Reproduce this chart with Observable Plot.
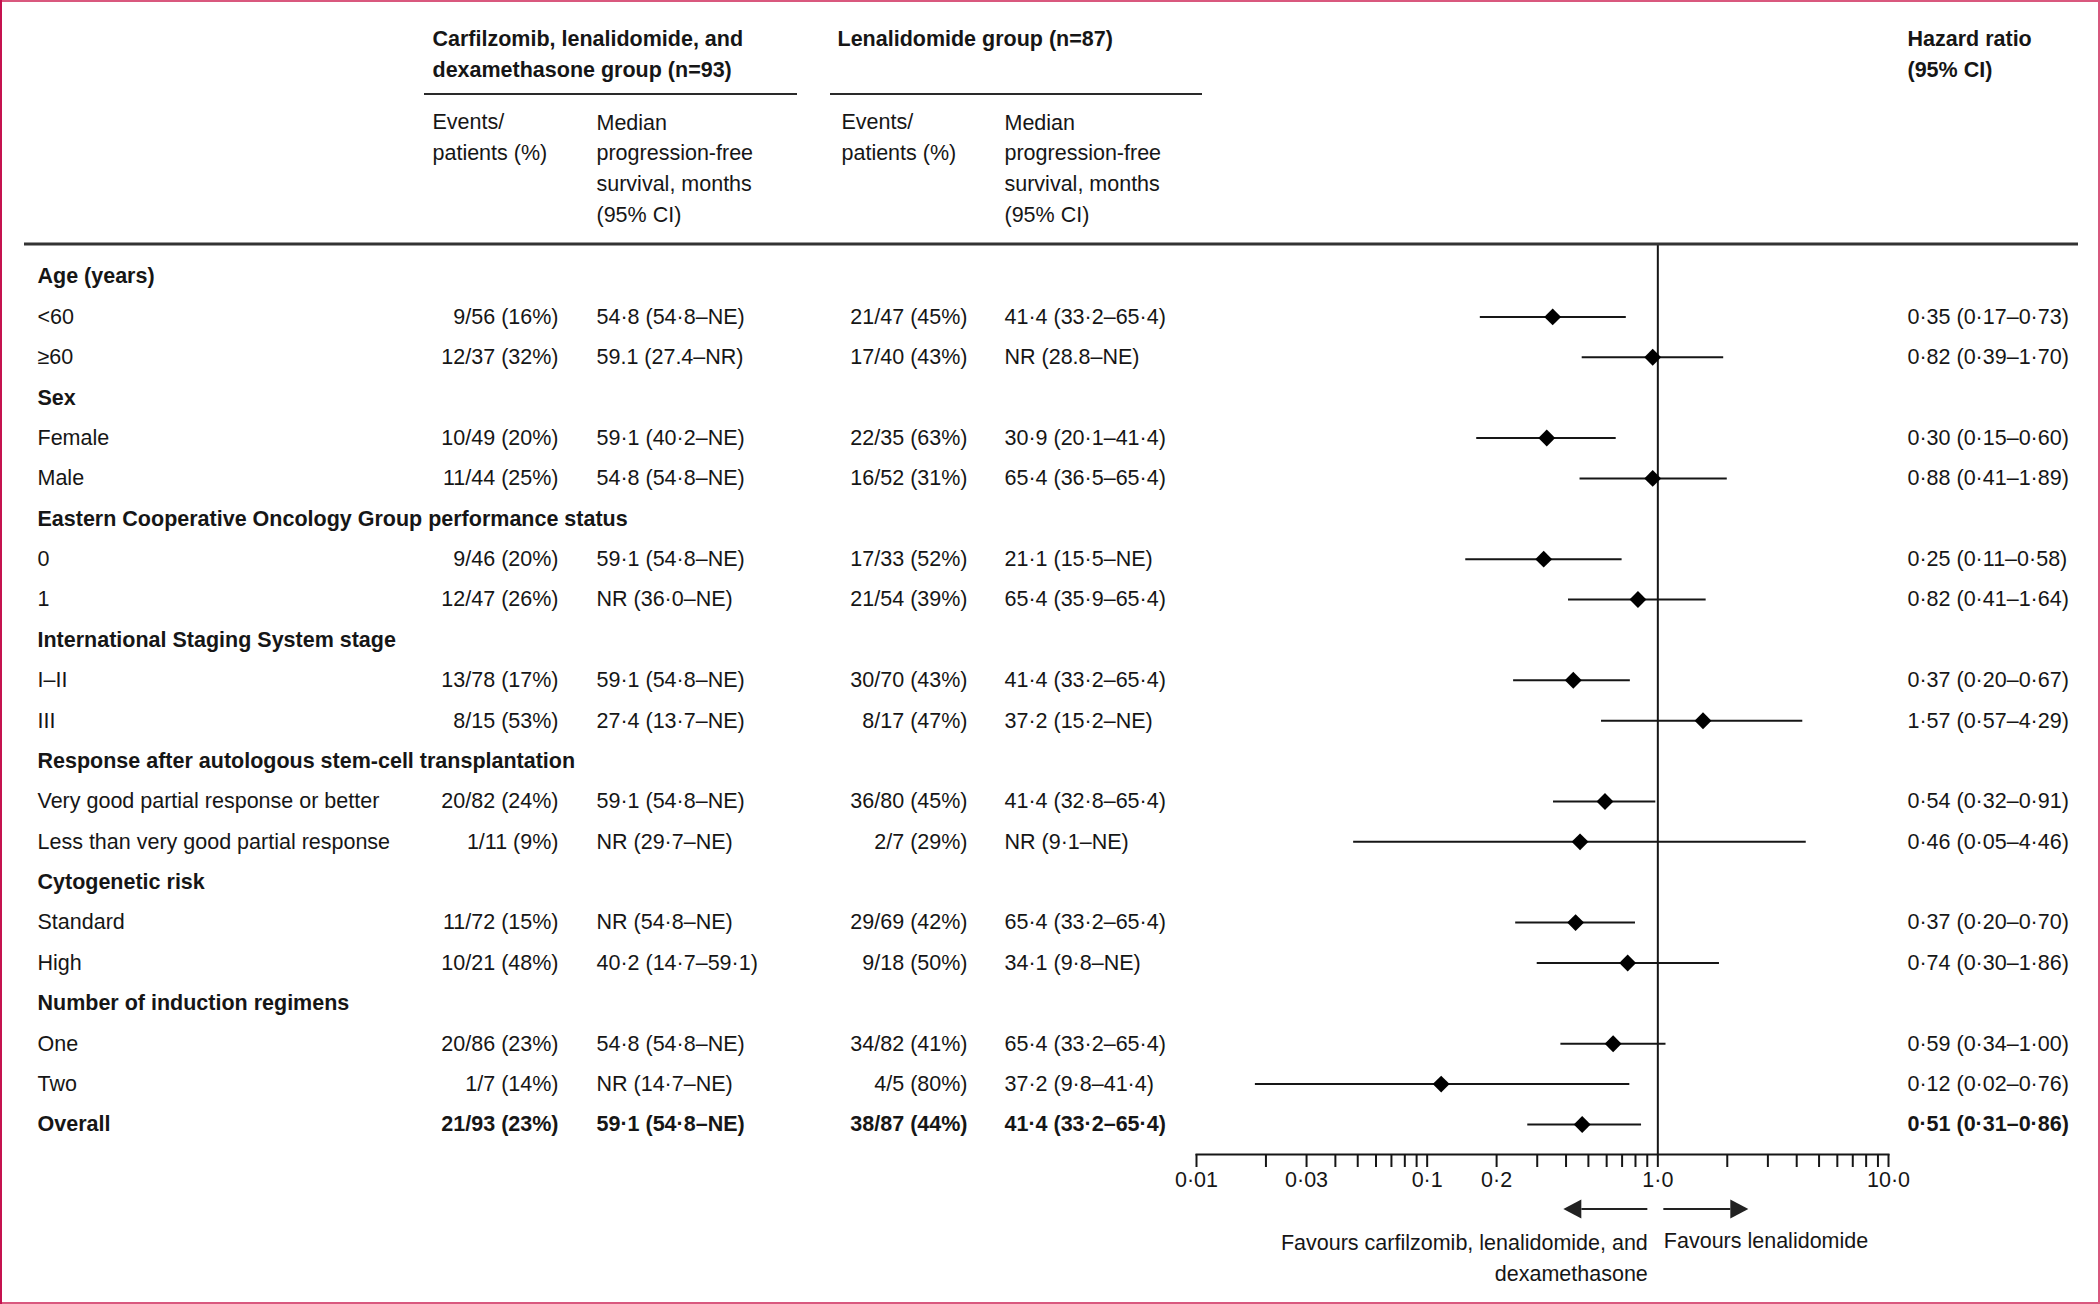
<!DOCTYPE html>
<html>
<head>
<meta charset="utf-8">
<script src="https://cdn.jsdelivr.net/npm/d3@7"></script>
<script src="https://cdn.jsdelivr.net/npm/@observablehq/plot@0.6"></script>
<style>
  html, body { margin: 0; padding: 0; background: #fff; }
  #chart { width: 2100px; height: 1304px; overflow: hidden; }
</style>
</head>
<body>
<div id="chart"></div>
<script>
// ---------------- DATA ----------------
const rowLabels = [
  "Age (years)", "<60", "≥60",
  "Sex", "Female", "Male",
  "Eastern Cooperative Oncology Group performance status", "0", "1",
  "International Staging System stage", "I–II", "III",
  "Response after autologous stem-cell transplantation", "Very good partial response or better", "Less than very good partial response",
  "Cytogenetic risk", "Standard", "High",
  "Number of induction regimens", "One", "Two",
  "Overall"
];
const rowType = [
  "section", "item", "item",
  "section", "item", "item",
  "section", "item", "item",
  "section", "item", "item",
  "section", "item", "item",
  "section", "item", "item",
  "section", "item", "item",
  "total"
];
const krdEvents = [
  null, "9/56 (16%)", "12/37 (32%)",
  null, "10/49 (20%)", "11/44 (25%)",
  null, "9/46 (20%)", "12/47 (26%)",
  null, "13/78 (17%)", "8/15 (53%)",
  null, "20/82 (24%)", "1/11 (9%)",
  null, "11/72 (15%)", "10/21 (48%)",
  null, "20/86 (23%)", "1/7 (14%)",
  "21/93 (23%)"
];
const krdMedian = [
  null, "54·8 (54·8–NE)", "59.1 (27.4–NR)",
  null, "59·1 (40·2–NE)", "54·8 (54·8–NE)",
  null, "59·1 (54·8–NE)", "NR (36·0–NE)",
  null, "59·1 (54·8–NE)", "27·4 (13·7–NE)",
  null, "59·1 (54·8–NE)", "NR (29·7–NE)",
  null, "NR (54·8–NE)", "40·2 (14·7–59·1)",
  null, "54·8 (54·8–NE)", "NR (14·7–NE)",
  "59·1 (54·8–NE)"
];
const lenEvents = [
  null, "21/47 (45%)", "17/40 (43%)",
  null, "22/35 (63%)", "16/52 (31%)",
  null, "17/33 (52%)", "21/54 (39%)",
  null, "30/70 (43%)", "8/17 (47%)",
  null, "36/80 (45%)", "2/7 (29%)",
  null, "29/69 (42%)", "9/18 (50%)",
  null, "34/82 (41%)", "4/5 (80%)",
  "38/87 (44%)"
];
const lenMedian = [
  null, "41·4 (33·2–65·4)", "NR (28.8–NE)",
  null, "30·9 (20·1–41·4)", "65·4 (36·5–65·4)",
  null, "21·1 (15·5–NE)", "65·4 (35·9–65·4)",
  null, "41·4 (33·2–65·4)", "37·2 (15·2–NE)",
  null, "41·4 (32·8–65·4)", "NR (9·1–NE)",
  null, "65·4 (33·2–65·4)", "34·1 (9·8–NE)",
  null, "65·4 (33·2–65·4)", "37·2 (9·8–41·4)",
  "41·4 (33·2–65·4)"
];
// hazard ratio column as printed
const hrPrinted = [
  null, "0·35 (0·17–0·73)", "0·82 (0·39–1·70)",
  null, "0·30 (0·15–0·60)", "0·88 (0·41–1·89)",
  null, "0·25 (0·11–0·58)", "0·82 (0·41–1·64)",
  null, "0·37 (0·20–0·67)", "1·57 (0·57–4·29)",
  null, "0·54 (0·32–0·91)", "0·46 (0·05–4·46)",
  null, "0·37 (0·20–0·70)", "0·74 (0·30–1·86)",
  null, "0·59 (0·34–1·00)", "0·12 (0·02–0·76)",
  "0·51 (0·31–0·86)"
];
// hazard ratio markers as drawn in the figure
const hrDrawn      = [null, 0.35, 0.95,  null, 0.33,  0.95, null, 0.32,  0.82, null, 0.43,  1.57, null, 0.59,  0.46,  null, 0.44,  0.74, null, 0.64,  0.115, 0.47];
const hrDrawnLower = [null, 0.17, 0.47,  null, 0.164, 0.46, null, 0.147, 0.41, null, 0.237, 0.57, null, 0.353, 0.048, null, 0.242, 0.30, null, 0.38,  0.018, 0.273];
const hrDrawnUpper = [null, 0.73, 1.93,  null, 0.66,  2.0,  null, 0.70,  1.62, null, 0.76,  4.25, null, 0.98,  4.40,  null, 0.80,  1.85, null, 1.085, 0.756, 0.85];

const tickValues = [
  0.01, 0.02, 0.03, 0.04, 0.05, 0.06, 0.07, 0.08, 0.09,
  0.1, 0.2, 0.3, 0.4, 0.5, 0.6, 0.7, 0.8, 0.9,
  1, 2, 3, 4, 5, 6, 7, 8, 9, 10
];
const tickLabelValues = [0.01, 0.03, 0.1, 0.2, 0.5, 1, 10];
const tickLabelTexts  = ["0·01", "0·03", "0·1", "0·2", "0·5", "1·0", "10·0"];
const xDomain = [0.01, 10];
const referenceHR = 1;

const headGroup1 = "Carfilzomib, lenalidomide, and\ndexamethasone group (n=93)";
const headGroup2 = "Lenalidomide group (n=87)";
const headHR = "Hazard ratio\n(95% CI)";
const headEvents = "Events/\npatients (%)";
const headMedian = "Median\nprogression-free\nsurvival, months\n(95% CI)";
const favoursLeft = "Favours carfilzomib, lenalidomide, and\ndexamethasone";
const favoursRight = "Favours lenalidomide";

// ---------------- LAYOUT ----------------
const W = 2100, H = 1304;
const L = { ml: 1196, mr: 212, mt: 244, mb: 150, fs: 21.5, lh: 1.43 };
const col = { label: 37, krdHead: 432, krdEv: 558, krdMed: 596, lenHead: 839, lenEv: 967, lenMed: 1004, hr: 1907 };
const ink = "#161616";
const font = "'Liberation Sans', Arial, Helvetica, sans-serif";

// ---------------- BUILD ----------------
const rows = rowLabels.map((label, i) => ({
  label, type: rowType[i],
  krdEv: krdEvents[i], krdMed: krdMedian[i],
  lenEv: lenEvents[i], lenMed: lenMedian[i],
  hr: hrDrawn[i], lo: hrDrawnLower[i], hi: hrDrawnUpper[i],
  hrText: hrPrinted[i]
}));
const forest = rows.filter(d => d.hr != null);
const plain = rows.filter(d => d.type === "item");
const bold = rows.filter(d => d.type !== "item");
const total = rows.filter(d => d.type === "total");
const tickText = new Map(tickLabelValues.map((v, i) => [v, tickLabelTexts[i]]));

function colText(data, field, x, anchor, weight) {
  return Plot.text(data.filter(d => d[field] != null), {
    y: "label", text: field, frameAnchor: "left", dx: x - L.ml,
    textAnchor: anchor, fontSize: L.fs, fontWeight: weight, fill: ink
  });
}
function headText(str, x, yCenter, weight) {
  return Plot.text([str], {
    text: d => d, frameAnchor: "top-left", dx: x - L.ml, dy: yCenter - L.mt,
    textAnchor: "start", lineAnchor: "middle", lineHeight: L.lh,
    fontSize: L.fs, fontWeight: weight, fill: ink
  });
}

const plot = Plot.plot({
  width: W, height: H,
  marginLeft: L.ml, marginRight: L.mr, marginTop: L.mt, marginBottom: L.mb,
  style: { fontFamily: font, fontSize: L.fs + "px", color: ink, background: "#fff", overflow: "visible" },
  x: { type: "log", domain: xDomain, label: null },
  y: { type: "point", domain: rowLabels, range: [276, 1124], padding: 0, round: false, axis: null },
  marks: [
    Plot.frame({ anchor: "bottom", stroke: ink, strokeWidth: 2 }),
    Plot.axisX({
      anchor: "bottom", ticks: tickValues, tickSize: 13, tickPadding: 4,
      tickFormat: d => tickText.get(d) ?? "", label: null,
      fontSize: L.fs, strokeWidth: 2
    }),
    Plot.ruleX([referenceHR], { stroke: ink, strokeWidth: 2 }),
    Plot.ruleY(forest, { y: "label", x1: "lo", x2: "hi", stroke: ink, strokeWidth: 2 }),
    Plot.dot(forest, { y: "label", x: "hr", symbol: "diamond2", r: 7.6, fill: "#000", stroke: "none" }),

    // row labels
    colText(plain, "label", col.label, "start", 400),
    colText(bold, "label", col.label, "start", 700),
    // data columns
    colText(plain, "krdEv", col.krdEv, "end", 400),
    colText(plain, "krdMed", col.krdMed, "start", 400),
    colText(plain, "lenEv", col.lenEv, "end", 400),
    colText(plain, "lenMed", col.lenMed, "start", 400),
    colText(plain, "hrText", col.hr, "start", 400),
    colText(total, "krdEv", col.krdEv, "end", 700),
    colText(total, "krdMed", col.krdMed, "start", 700),
    colText(total, "lenEv", col.lenEv, "end", 700),
    colText(total, "lenMed", col.lenMed, "start", 700),
    colText(total, "hrText", col.hr, "start", 700),

    // column headers
    headText(headGroup1, col.krdHead, 51, 700),
    headText(headGroup2, col.lenHead - 2, 35.5, 700),
    headText(headHR, col.hr, 51, 700),
    headText(headEvents, col.krdHead, 134.5, 400),
    headText(headMedian, col.krdMed, 165.5, 400),
    headText(headEvents, col.lenHead + 2, 134.5, 400),
    headText(headMedian, col.lenMed, 165.5, 400),

    // favours labels
    Plot.text([favoursLeft], {
      text: d => d, x: () => referenceHR, frameAnchor: "bottom", dx: -10, dy: 101.5,
      textAnchor: "end", lineAnchor: "middle", lineHeight: L.lh, fontSize: L.fs, fill: ink
    }),
    Plot.text([favoursRight], {
      text: d => d, x: () => referenceHR, frameAnchor: "bottom", dx: 6, dy: 87,
      textAnchor: "start", lineAnchor: "middle", fontSize: L.fs, fill: ink
    })
  ]
});

// ---------------- DECORATIONS (rules, arrows, border) ----------------
const svg = d3.select(plot);
const deco = svg.append("g").attr("aria-label", "decorations");
// group header underlines
[[424, 797], [830, 1202]].forEach(([a, b]) =>
  deco.append("line").attr("x1", a).attr("x2", b).attr("y1", 94).attr("y2", 94)
    .attr("stroke", "#2a2a2a").attr("stroke-width", 2));
// main header rule
deco.append("line").attr("x1", 24).attr("x2", 2078).attr("y1", 244).attr("y2", 244)
  .attr("stroke", "#333").attr("stroke-width", 3);
// favours arrows
const x0 = plot.scale("x").apply(referenceHR);
const ay = H - L.mb + 55;
function arrow(xStart, xTip) {
  const dir = Math.sign(xTip - xStart);
  const base = xTip - dir * 18;
  deco.append("line").attr("x1", xStart).attr("x2", base).attr("y1", ay).attr("y2", ay)
    .attr("stroke", "#222").attr("stroke-width", 2);
  deco.append("path").attr("d", `M${xTip},${ay} L${base},${ay - 9.5} L${base},${ay + 9.5} Z`).attr("fill", "#222");
}
arrow(x0 - 10, x0 - 94);
arrow(x0 + 6, x0 + 91);
// page border
deco.append("rect").attr("x", 1).attr("y", 1).attr("width", W - 2).attr("height", H - 2)
  .attr("fill", "none").attr("stroke", "#d9587e").attr("stroke-width", 2);
deco.append("line").attr("x1", 1).attr("x2", 1).attr("y1", 0).attr("y2", H)
  .attr("stroke", "#c5124f").attr("stroke-width", 2);

document.getElementById("chart").appendChild(plot);
</script>
</body>
</html>
